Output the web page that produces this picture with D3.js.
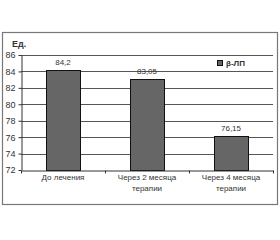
<!DOCTYPE html>
<html>
<head>
<meta charset="utf-8">
<script src="https://d3js.org/d3.v7.min.js"></script>
<style>
  body { margin: 0; background: #fff; }
  text { font-family: "Liberation Sans", Arial, sans-serif; fill: #333; }
  .grid line { stroke: #555; stroke-width: 1; }
  .axis path, .axis line { stroke: #333; }
</style>
</head>
<body>
<svg id="chart" width="280" height="240"></svg>
<script>
  // chart data
  var categories = [["До лечения"], ["Через 2 месяца", "терапии"], ["Через 4 месяца", "терапии"]];
  var values = [84.2, 83.05, 76.15];
  var valueLabels = ["84,2", "83,05", "76,15"];
  var yTicks = [72, 74, 76, 78, 80, 82, 84, 86];
  var seriesName = "β-ЛП";

  var svg = d3.select('#chart');

  // outer frame
  svg.append('rect')
    .attr('x', 2.5).attr('y', 32.5)
    .attr('width', 275).attr('height', 172)
    .attr('fill', '#fff')
    .attr('stroke', '#777')
    .attr('stroke-width', 1.2);

  var plotLeft = 21, plotRight = 273, plotTop = 55, plotBottom = 170;

  var x = d3.scaleBand()
    .domain(d3.range(values.length))
    .range([plotLeft, plotRight])
    .paddingInner(0.595).paddingOuter(0.2975);
  var xc = d3.scaleBand()
    .domain(d3.range(values.length))
    .range([plotLeft, plotRight]);
  var y = d3.scaleLinear().domain([72, 86]).range([plotBottom, plotTop]);

  // gridlines
  svg.append('g').attr('class', 'grid')
    .selectAll('line')
    .data(yTicks.slice(1))
    .enter().append('line')
      .attr('x1', plotLeft).attr('x2', plotRight)
      .attr('y1', function(d) { return Math.round(y(d)) + 0.5; })
      .attr('y2', function(d) { return Math.round(y(d)) + 0.5; });

  // bars
  svg.selectAll('rect.bar')
    .data(values)
    .enter().append('rect')
      .attr('class', 'bar')
      .attr('x', function(d, i) { return Math.round(x(i)) + 0.5; })
      .attr('y', function(d) { return Math.round(y(d)) + 0.5; })
      .attr('width', Math.round(x.bandwidth()))
      .attr('height', function(d) { return Math.round(y(72)) - Math.round(y(d)); })
      .attr('fill', '#666')
      .attr('stroke', '#111')
      .attr('stroke-width', 1);

  // value labels
  svg.selectAll('text.val')
    .data(values)
    .enter().append('text')
      .attr('class', 'val')
      .attr('x', function(d, i) { return x(i) + x.bandwidth() / 2; })
      .attr('y', function(d) { return y(d) - 5; })
      .attr('text-anchor', 'middle')
      .attr('font-size', 8)
      .text(function(d, i) { return valueLabels[i]; });

  // y axis
  var yAxis = svg.append('g').attr('class', 'axis')
    .attr('transform', 'translate(' + (plotLeft + 0.5) + ',0)')
    .call(d3.axisLeft(y).tickValues(yTicks).tickSize(3).tickSizeOuter(0));
  yAxis.selectAll('text').attr('font-size', 9).attr('dx', 0);

  // x axis
  svg.append('g').attr('class', 'axis')
    .attr('transform', 'translate(0,' + (Math.round(y(72)) + 0.5) + ')')
    .call(d3.axisBottom(xc).tickValues([]).tickSizeOuter(0));
  svg.append('g')
    .selectAll('line')
    .data(d3.range(values.length + 1))
    .enter().append('line')
      .attr('x1', function(d) { return Math.round(plotLeft + d * xc.step()) + 0.5; })
      .attr('x2', function(d) { return Math.round(plotLeft + d * xc.step()) + 0.5; })
      .attr('y1', Math.round(y(72)) + 0.5)
      .attr('y2', Math.round(y(72)) + 3.5)
      .attr('stroke', '#333');

  // category labels
  var cat = svg.selectAll('text.cat')
    .data(categories)
    .enter().append('text')
      .attr('class', 'cat')
      .attr('text-anchor', 'middle')
      .attr('font-size', 8)
      .attr('x', function(d, i) { return xc(i) + xc.bandwidth() / 2; })
      .attr('y', 180);
  cat.selectAll('tspan')
    .data(function(d) { return d; })
    .enter().append('tspan')
      .attr('x', function() { return d3.select(this.parentNode).attr('x'); })
      .attr('dy', function(d, i) { return i ? 11 : 0; })
      .text(function(d) { return d; });

  // unit label
  svg.append('text')
    .attr('x', 12).attr('y', 47)
    .attr('font-size', 9)
    .attr('font-weight', 'bold')
    .text('Ед.');

  // legend
  svg.append('rect')
    .attr('x', 217.5).attr('y', 60.5)
    .attr('width', 5).attr('height', 5)
    .attr('fill', '#666').attr('stroke', '#111');
  svg.append('text')
    .attr('x', 226).attr('y', 66)
    .attr('font-size', 8)
    .attr('font-weight', 'bold')
    .text(seriesName);
</script>
</body>
</html>
